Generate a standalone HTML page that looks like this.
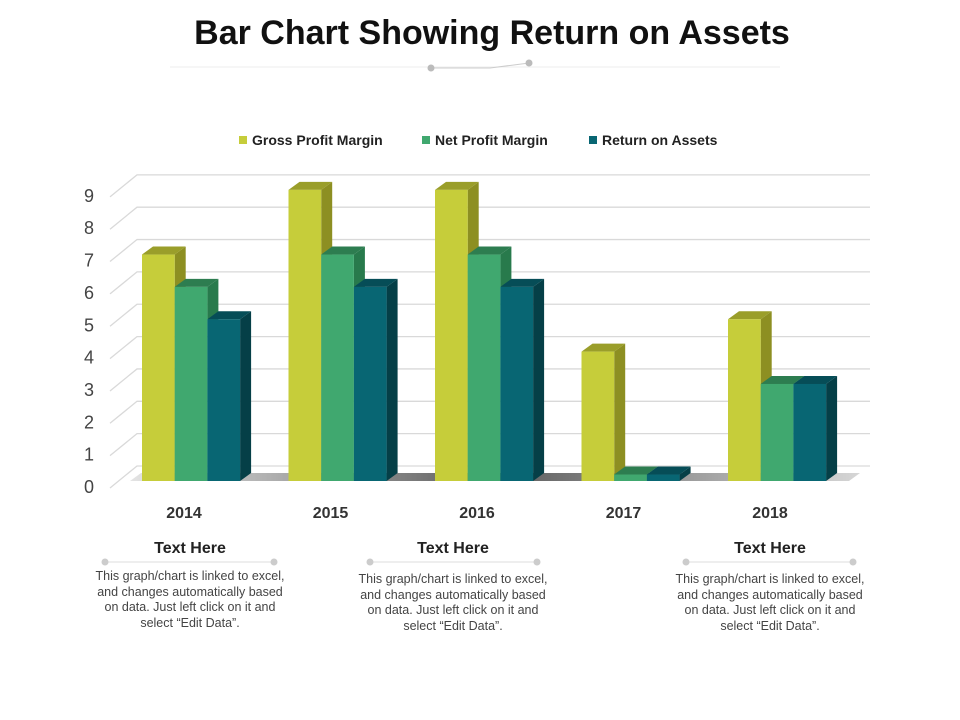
<!DOCTYPE html>
<html><head><meta charset="utf-8"><style>
body{margin:0;background:#fff;}
#c{position:relative;width:960px;height:720px;overflow:hidden;font-family:"Liberation Sans",sans-serif;}
.t{position:absolute;text-align:center;}
.h{font-weight:bold;font-size:16px;color:#222;}
.p{font-size:12.5px;line-height:15.6px;color:#444;width:190px;}
</style></head><body>
<div id="c">
<div class="t" style="left:0;width:984px;top:14px;font-size:34px;font-weight:bold;color:#111;">Bar Chart Showing Return on Assets</div>
<svg width="960" height="720" style="position:absolute;left:0;top:0" id="svg">
<g>
<line x1="170" y1="67" x2="780" y2="67" stroke="#eee" stroke-width="1"/>
<polyline points="431,68 490,68 529,63" fill="none" stroke="#ccc" stroke-width="1"/>
<circle cx="431" cy="68" r="3.5" fill="#bbb"/><circle cx="529" cy="63" r="3.5" fill="#bbb"/>
</g>
<g id="legend">
<rect x="239" y="136" width="8" height="8" fill="#c6cd3a"/>
<text x="252" y="145" font-size="14" font-weight="bold" fill="#222">Gross Profit Margin</text>
<rect x="422" y="136" width="8" height="8" fill="#40a86f"/>
<text x="435" y="145" font-size="14" font-weight="bold" fill="#222">Net Profit Margin</text>
<rect x="589" y="136" width="8" height="8" fill="#086673"/>
<text x="602" y="145" font-size="14" font-weight="bold" fill="#222">Return on Assets</text>
</g>
<defs><linearGradient id="fl" x1="0" x2="1"><stop offset="0" stop-color="#ddd"/><stop offset="0.5" stop-color="#333"/><stop offset="1" stop-color="#ccc"/></linearGradient></defs>
<g id="grid"></g><g id="bars"></g><g id="xl"></g>
</svg>
<div class="t h" style="left:95px;width:190px;top:540px">Text Here</div>
<div class="t p" style="left:95px;top:569px">This graph/chart is linked to excel, and changes automatically based on data. Just left click on it and select “Edit Data”.</div>
<div class="t h" style="left:358px;width:190px;top:540px">Text Here</div>
<div class="t p" style="left:358px;top:572px">This graph/chart is linked to excel, and changes automatically based on data. Just left click on it and select “Edit Data”.</div>
<div class="t h" style="left:675px;width:190px;top:540px">Text Here</div>
<div class="t p" style="left:675px;top:572px">This graph/chart is linked to excel, and changes automatically based on data. Just left click on it and select “Edit Data”.</div>
<svg width="960" height="720" style="position:absolute;left:0;top:0;pointer-events:none">
<g stroke="#ddd" fill="#ccc">
<line x1="105" y1="562" x2="274" y2="562"/><circle cx="105" cy="562" r="3.5" stroke="none"/><circle cx="274" cy="562" r="3.5" stroke="none"/>
<line x1="370" y1="562" x2="537" y2="562"/><circle cx="370" cy="562" r="3.5" stroke="none"/><circle cx="537" cy="562" r="3.5" stroke="none"/>
<line x1="686" y1="562" x2="853" y2="562"/><circle cx="686" cy="562" r="3.5" stroke="none"/><circle cx="853" cy="562" r="3.5" stroke="none"/>
</g></svg>
</div>
<script>
const categories=["2014","2015","2016","2017","2018"];
const grossProfit=[7,9,9,4,5];
const netProfit=[6,7,7,0.2,3];
const returnOnAssets=[5,6,6,0.2,3];
const yTicks=[0,1,2,3,4,5,6,7,8,9];
const NS="http://www.w3.org/2000/svg";
const base=481,unit=32.35,dx=11,dy=8;
const y=v=>base-v*unit;
const gx=i=>142+i*146.5;
function mk(t,a,p){const e=document.createElementNS(NS,t);for(const k in a)e.setAttribute(k,a[k]);p.appendChild(e);return e;}
const grid=document.getElementById('grid');
yTicks.forEach(v=>{
  const yy=y(v)-15;
  const l=mk('polyline',{points:`110,${yy+22} 137,${yy} 870,${yy}`,fill:'none',stroke:'#d9d9d9','stroke-width':1.3},grid);
  
  
  const t=mk('text',{x:89,y:y(v)+12,'font-size':18,fill:'#444','text-anchor':'middle'},grid);
  t.textContent=v;
  
  
});
const fl=mk('polygon',{points:`130,${base} 141,${base-8} 860,${base-8} 849,${base}`,fill:'url(#fl)',opacity:0.8},grid);


const series=[[grossProfit,'#c6cd3a','#8d8f22','#9a9e2a','gross'],[netProfit,'#40a86f','#287a4c','#2d7d50','net'],[returnOnAssets,'#086673','#053f47','#064d57','roa']];
const bars=document.getElementById('bars');
categories.forEach((c,i)=>{
  series.forEach((s,j)=>{
    const v=s[0][i],x0=gx(i)+j*32.7,w=32.7,top=y(v);
    const g=mk('g',{},bars);
    
    
    mk('polygon',{points:`${x0+w},${base} ${x0+w+dx},${base-dy} ${x0+w+dx},${top-dy} ${x0+w},${top}`,fill:s[2]},g);
    mk('polygon',{points:`${x0},${top} ${x0+dx},${top-dy} ${x0+w+dx},${top-dy} ${x0+w},${top}`,fill:s[3]},g);
    mk('rect',{x:x0,y:top,width:w,height:base-top,fill:s[1]},g);
  });
  const t=mk('text',{x:gx(i)+42,y:518,'font-size':16,'font-weight':'bold',fill:'#333','text-anchor':'middle'},document.getElementById('xl'));
  t.textContent=c;
  
  
});
</script>
</body></html>
